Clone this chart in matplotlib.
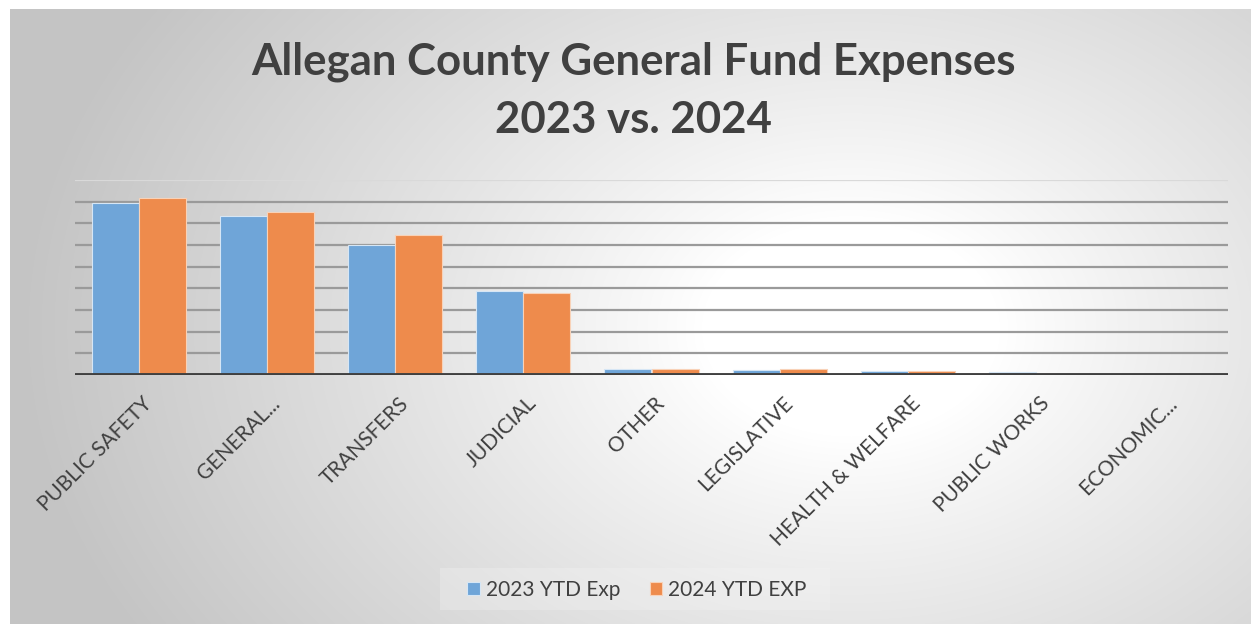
import numpy as np
import matplotlib
matplotlib.use("Agg")
import matplotlib.pyplot as plt
from matplotlib.patches import Rectangle
from matplotlib.transforms import ScaledTranslation

categories = ["PUBLIC SAFETY", "GENERAL...", "TRANSFERS", "JUDICIAL", "OTHER",
              "LEGISLATIVE", "HEALTH & WELFARE", "PUBLIC WORKS", "ECONOMIC..."]
exp_2023 = [7.96, 7.33, 6.02, 3.87, 0.26, 0.22, 0.17, 0.15, 0.05]
exp_2024 = [8.17, 7.53, 6.45, 3.78, 0.26, 0.27, 0.19, 0.05, 0.02]
series_labels = ["2023 YTD Exp", "2024 YTD EXP"]
title = "Allegan County General Fund Expenses\n2023 vs. 2024"

plt.rcParams['font.family'] = ['Lato', 'DejaVu Sans']

W, H = 1257, 624
fig = plt.figure(figsize=(W / 100, H / 100), dpi=100)
fig.patch.set_facecolor('white')

# background radial gradient
bg = fig.add_axes([10 / W, 0, 1240 / W, 615 / H], zorder=0)
yy, xx = np.mgrid[0:615, 0:1240]
cx, cy = 840, 320
d = np.sqrt(((xx - cx) / 830.0) ** 2 + ((yy - cy) / 600.0) ** 2)
t = np.clip((d - 0.18) / 0.82, 0, 1)
val = 1.0 - 0.23 * t ** 0.9
img = np.dstack([val, val, val])
bg.imshow(img, aspect='auto', extent=[0, 1, 0, 1], origin='upper')
bg.axis('off')

ax = fig.add_axes([75 / W, (H - 375) / H, 1153 / W, 195 / H], zorder=1)
ax.patch.set_alpha(0)
x = np.arange(len(categories))
bw = 0.367
ax.bar(x - bw / 2, exp_2023, bw, color='#6FA5D8', edgecolor='#D6E6F5', linewidth=0.8,
       label=series_labels[0], zorder=3)
ax.bar(x + bw / 2, exp_2024, bw, color='#EE8B4C', edgecolor='#F8D2B8', linewidth=0.8,
       label=series_labels[1], zorder=3)
ax.set_xlim(-0.5, len(categories) - 0.5)
ax.set_ylim(0, 9)
for g in range(1, 9):
    ax.axhline(g, color='#9a9a9a', lw=1.6, zorder=1)
ax.axhline(9, color='#d9d9d9', lw=1.6, zorder=1)
ax.axhline(0, color='#404040', lw=2.8, zorder=4)
for s in ax.spines.values():
    s.set_visible(False)
ax.set_yticks([])
ax.set_xticks(x)
ax.set_xticklabels(categories, rotation=45, ha='right', rotation_mode='anchor',
                   fontsize=15, color='#404040')
ax.tick_params(axis='x', length=0, pad=13)
off = ScaledTranslation(3 / 100, 0, fig.dpi_scale_trans)
for lab in ax.get_xticklabels():
    lab.set_transform(lab.get_transform() + off)

fig.text(633 / W, 1 - 91 / H, title, ha='center', va='center', fontsize=31.5,
         fontweight='bold', color='#404040', linespacing=1.55)

leg_bg = Rectangle((440 / W, 1 - 610 / H), 390 / W, 42 / H, transform=fig.transFigure,
                   facecolor='#f5f5f5', edgecolor='none', alpha=0.3, zorder=1)
fig.patches.append(leg_bg)
h, l = ax.get_legend_handles_labels()
leg = fig.legend(h, l, loc='center', bbox_to_anchor=(637 / W, 1 - 590 / H), ncol=2,
                 frameon=False, fontsize=15, handlelength=0.6, handleheight=0.6,
                 handletextpad=0.3, columnspacing=1.4, labelcolor='#404040')

fig.savefig('out.png', dpi=100, facecolor='white')
